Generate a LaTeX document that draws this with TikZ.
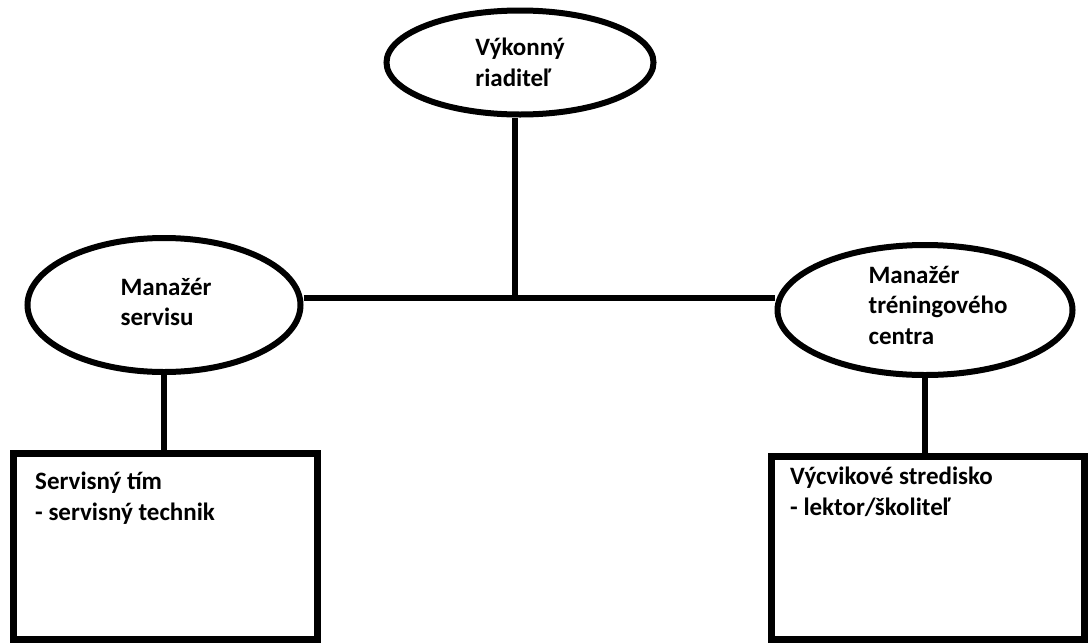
\documentclass[tikz,border=0pt]{standalone}
\usepackage{fontspec}
\setmainfont{Carlito}
\usetikzlibrary{shapes.geometric}
\begin{document}
\begin{tikzpicture}[x=1pt,y=-1pt,
  lbl/.style={font=\bfseries\fontsize{25}{30.5}\selectfont, align=left, text=black, inner sep=0pt},
  oval/.style={ellipse, draw, line width=6pt, inner sep=0pt},
  boxnode/.style={rectangle, draw, line width=7pt, inner sep=0pt},
  conn/.style={line width=6pt}]
\useasboundingbox (0,0) rectangle (1089,643);
% shapes
\node[oval, minimum width=267, minimum height=104] (ceo) at (520,62.5) {};
\node[oval, minimum width=273, minimum height=134] (mgrS) at (164,305) {};
\node[oval, minimum width=295, minimum height=130] (mgrT) at (925,310) {};
\node[boxnode, minimum width=304, minimum height=186] (lbox) at (165,546) {};
\node[boxnode, minimum width=313, minimum height=183] (rbox) at (927.5,547.5) {};
% texts
\node[lbl, xshift=0pt, yshift=0pt] (ceoT) at (ceo.center) {Výkonný\\riaditeľ};
\node[lbl, xshift=2pt, yshift=3pt] (mgrST) at (mgrS.center) {Manažér\\servisu};
\node[lbl, xshift=13pt, yshift=5pt] (mgrTT) at (mgrT.center) {Manažér\\tréningového\\centra};
\node[lbl, anchor=base west] (ltxt) at (35,520) {Servisný tím\\- servisný technik};
\node[lbl, anchor=base west] (rtxt) at (790,515) {Výcvikové stredisko\\- lektor/školiteľ};
% connectors
\coordinate (j) at (515,298);
\draw[conn] (j |- ceo.south) -- (j);
\draw[conn] (mgrS.east |- j) -- (mgrT.west |- j);
\draw[conn] (mgrS.south) -- (mgrS.south |- lbox.north);
\draw[conn] (mgrT.south) -- (mgrT.south |- rbox.north);
\end{tikzpicture}
\end{document}
